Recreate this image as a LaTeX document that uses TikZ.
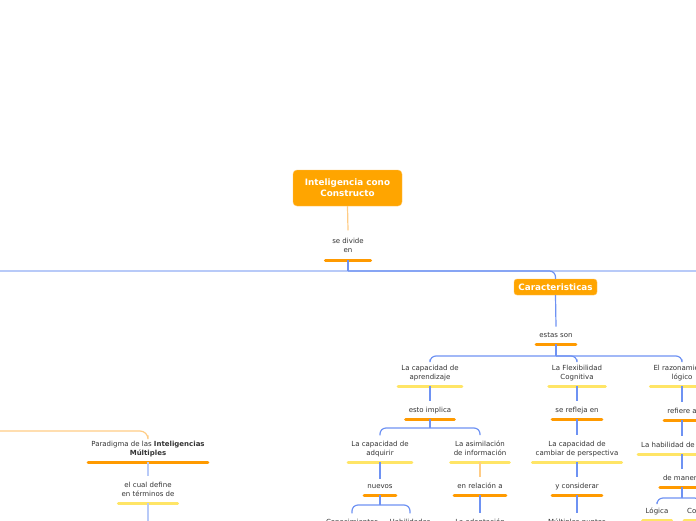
\documentclass[tikz,border=0pt]{standalone}
\usepackage{fontspec}
\setmainfont{DejaVu Sans}
\usepackage{tikz}
\usetikzlibrary{calc}
\definecolor{orng}{HTML}{FFA500}
\definecolor{orngl}{HTML}{FFC25A}
\definecolor{barO}{HTML}{FF9A00}
\definecolor{barY}{HTML}{FFE566}
\definecolor{blu}{HTML}{6E92F3}
\definecolor{bluL}{HTML}{B8CAF8}
\definecolor{orL}{HTML}{FFCC85}
\definecolor{txt}{HTML}{333333}
\newcommand{\rtf}{\fontsize{8.8}{11}\selectfont\bfseries}
\newcommand{\lbf}{\fontsize{7}{9}\selectfont}

\begin{document}
\begin{tikzpicture}[
  x=1pt, y=-1pt,
  font=\lbf,
  rt/.style  = {draw=orngl, fill=orng, rounded corners=4pt, text=white, font=\rtf, align=center, inner sep=0pt},
  lb/.style  = {align=center, text=txt, inner xsep=4.5pt, inner ysep=6pt, text depth=0pt, anchor=south},
  ob/.style  = {draw=barO, line width=3pt, line cap=round, shorten <=1.5pt, shorten >=1.5pt},
  yb/.style  = {draw=barY, line width=3pt, line cap=round, shorten <=1.5pt, shorten >=1.5pt},
  ln/.style  = {draw=blu, line width=1.2pt},
  lln/.style = {draw=bluL, line width=1.2pt},
  oln/.style = {draw=orL, line width=1.2pt},
  br/.style  = {rounded corners=6pt}
]
\useasboundingbox (0,0) rectangle (696,520);
\clip (0,0) rectangle (696,520);

% ---------- central topic ---------------------------------------------
\node[rt, minimum width=109pt, minimum height=36pt] (root) at (347.5,188) {Inteligencia cono\\Constructo};
\node[lb, minimum width=48pt, inner ysep=7.5pt] (div) at (348,260) {se divide\\en};
\node[rt, minimum width=83pt, minimum height=16pt, rounded corners=3pt] (car) at (555.5,287) {Caracteristicas};
\node[lb] (son) at (556,344) {estas son};

% ---------- characteristics row -----------------------------------------
\node[lb] (apr) at (430,386) {La capacidad de\\aprendizaje};
\node[lb] (flx) at (577,386) {La Flexibilidad\\Cognitiva};
\node[lb] (raz) at (682,386) {El razonamiento\\lógico};

% ---------- aprendizaje ---------------------------------------------------
\node[lb] (imp) at (430,419) {esto implica};
\node[lb] (adq) at (380,462) {La capacidad de\\adquirir};
\node[lb] (asi) at (480,462) {La asimilación\\de información};
\node[lb] (nue) at (380,495) {nuevos};
\node[lb] (rel) at (480,495) {en relación a};
\node[lb] (con) at (352,531) {Conocimientos};
\node[lb] (hab) at (410,531) {Habilidades};
\node[lb] (ada) at (480,531) {La adaptación};

% ---------- flexibilidad --------------------------------------------------
\node[lb] (ref) at (577,419) {se refleja en};
\node[lb] (per) at (577,462) {La capacidad de\\cambiar de perspectiva};
\node[lb] (cns) at (577,495) {y considerar};
\node[lb] (mul) at (577,531) {Múltiples puntos};

% ---------- razonamiento -------------------------------------------------
\node[lb] (rfa) at (682,420) {refiere a};
\node[lb, anchor=south west] (hbl) at (636.5,454) {La habilidad de};
\node[lb] (man) at (682,487) {de manera};
\node[lb] (log) at (657,520) {Lógica};
\node[lb, anchor=south west] (cow) at (682.5,520) {Coherente};

% ---------- left branch ---------------------------------------------------
\node[lb] (par) at (148,462) {Paradigma de las \textbf{Inteligencias}\\\textbf{Múltiples}};
\node[lb] (def) at (148,503) {el cual define\\en términos de};

% ---------- underline bars ----------------------------------------------
\foreach \n in {div,son,imp,nue,rel,ref,cns,rfa,man,par}{\draw[ob] (\n.south west) -- (\n.south east);}
\foreach \n in {apr,flx,raz,adq,asi,con,hab,ada,per,mul,hbl,log,cow,def}{\draw[yb] (\n.south west) -- (\n.south east);}

% ---------- connectors ----------------------------------------------------
\coordinate (wE) at (-10,271);
\coordinate (eE) at (706,271);
\coordinate (j0) at ($(div.south)+(0,11)$);
\draw[oln] (root.south) -- (div.north);
\draw[lln] (wE) -- (eE);
\draw[ln] (div.south) -- (j0);
\draw[ln, br] (j0) -| (car.north);
\draw[ln] (car.south) -- (son.north);

\coordinate (j1) at ($(son.south)+(0,12)$);
\draw[ln] (son.south) -- (j1);
\foreach \c in {apr,flx,raz}{\draw[ln, br] (j1) -| (\c.north);}

\draw[ln] (apr.south) -- (imp.north);
\coordinate (j2) at ($(imp.south)+(0,9)$);
\draw[ln] (imp.south) -- (j2);
\foreach \c in {adq,asi}{\draw[ln, br] (j2) -| (\c.north);}

\draw[ln] (adq.south) -- (nue.north);
\coordinate (j3) at ($(nue.south)+(0,10)$);
\draw[ln] (nue.south) -- (j3);
\foreach \c in {con,hab}{\draw[ln, br] (j3) -| (\c.north);}
\draw[oln] (asi.south) -- (rel.north);
\draw[ln] (rel.south) -- (ada.north);

\foreach \a/\b in {flx/ref, ref/per, per/cns, cns/mul, raz/rfa}{
  \draw[ln] (\a.south) -- (\b.north);}
\draw[ln] (rfa.south) -- (rfa.south |- hbl.north);
\draw[ln] (rfa.south |- hbl.south) -- (man.north);
\coordinate (j4) at ($(man.south)+(0,11)$);
\draw[ln] (man.south) -- (j4);
\draw[ln, br] (j4) -| (log.north);
\draw[ln, br] (j4) -| ($(cow.north west)+(18,0)$);

% ---------- left branch connectors ---------------------------------------
\coordinate (wP) at (-10,431);
\coordinate (sD) at (148,530);
\draw[oln, rounded corners=8pt] (wP) -| (par.north);
\draw[lln] (par.south) -- (def.north);
\draw[lln] (def.south) -- (sD);

\end{tikzpicture}
\end{document}
